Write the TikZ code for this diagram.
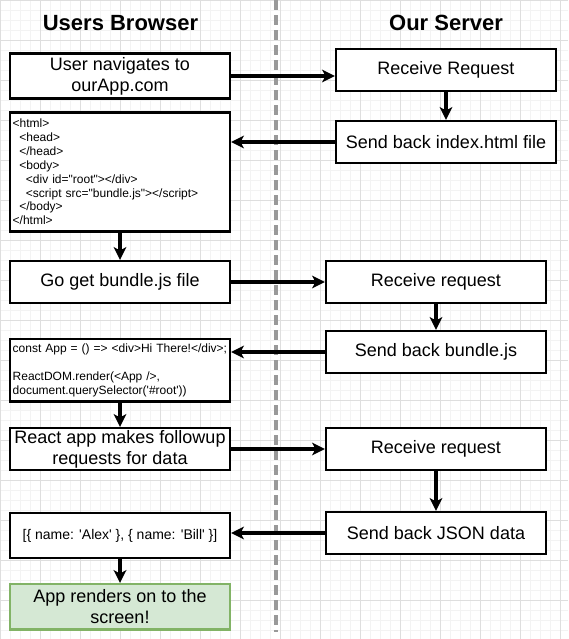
\documentclass[tikz,border=0pt]{standalone}
\usepackage{fontspec}
\setmainfont{Liberation Sans}[Ligatures=TeXOff]
\usetikzlibrary{arrows.meta}

\tikzset{every picture/.style={line width=0.75pt}}
\tikzset{
  stepbox/.style={draw, fill=white, line width=1.8pt, minimum width=165pt, minimum height=31.5pt, inner sep=0pt, align=center, font=\fontsize{13.5}{15.75}\selectfont},
  codebox/.style={stepbox, text width=161pt, inner xsep=2pt, align=left, font=\fontsize{9}{10.4}\selectfont},
  donebox/.style={stepbox, draw={rgb, 255:red, 130; green, 179; blue, 102}, fill={rgb, 255:red, 213; green, 232; blue, 212}},
  arrowline/.style={draw, line width=2.3pt, -{Stealth[length=9.5pt, width=9.5pt, inset=2.5pt]}},
  lane/.style={font=\fontsize{16.5}{19}\selectfont\bfseries},
}

\begin{document}
\begin{tikzpicture}[x=0.75pt,y=0.75pt,yscale=-1,xscale=1]
	\useasboundingbox (0,0) rectangle (568,639);
	\fill [white] (0,0) rectangle (568,639);

	%Shape: Grid
	\draw [color={rgb, 255:red, 243; green, 243; blue, 243 }, step=10] (0,0) grid (568,639);
	\draw [color={rgb, 255:red, 222; green, 222; blue, 222 }, step=40] (0,0) grid (568,639);
	%Straight Lines
	\draw [color={rgb, 255:red, 153; green, 153; blue, 153 }, line width=2.4pt, dash pattern={on 7.5pt off 3.75pt}] (276,0) -- (276,632);

	% Text Node
	\node [lane] (browser) at (120.5,22.6) {Users Browser};
	% Text Node
	\node [lane] (server) at (446,22.6) {Our Server};

	%Shape: Rectangle
	\node [stepbox, minimum height=33.75pt] (user) at (120,76) {User navigates to\\ourApp.com};
	\node [stepbox] (recv1) at (446,70) {Receive Request};
	\node [stepbox] (sendidx) at (446,142) {Send back index.html file};
	\node [codebox, minimum height=89.25pt] (html) at (120,172) {<html>\\
		\hspace*{0.56em}<head>\\
		\hspace*{0.56em}</head>\\
		\hspace*{0.56em}<body>\\
		\hspace*{1.11em}<div id="root"></div>\\
		\hspace*{1.11em}<script src="bundle.js"></script>\\
		\hspace*{0.56em}</body>\\
		</html>};
	\node [stepbox] (goget) at (120,282) {Go get bundle.js file};
	\node [stepbox] (recv2) at (436,282) {Receive request};
	\node [stepbox] (sendjs) at (436,352) {Send back bundle.js};
	\node [codebox, minimum height=47pt] (reactcode) at (120,370.3) {const App = () => <div>Hi There!</div>;\\[10.4pt]
		ReactDOM.render(<App />,\\
		document.querySelector('\#root'))};
	\node [stepbox] (followup) at (120,449) {React app makes followup\\requests for data};
	\node [stepbox] (recv3) at (436,449) {Receive request};
	\node [stepbox] (sendjson) at (436,533) {Send back JSON data};
	\node [stepbox, minimum height=33.75pt, font=\fontsize{10.5}{12.6}\selectfont] (jsondata) at (120,535.7) {[\{ name: 'Alex' \}, \{ name: 'Bill' \}]};
	\node [donebox, minimum height=34pt] (render) at (120,606.7) {App renders on to the\\screen!};

	%Straight Lines
	\path [arrowline] (user.east) -- (user.east -| recv1.west);
	\path [arrowline] (recv1.south) -- (sendidx.north);
	\path [arrowline] (sendidx.west) -- (sendidx.west -| html.east);
	\path [arrowline] (html.south) -- (goget.north);
	\path [arrowline] (goget.east) -- (recv2.west);
	\path [arrowline] (recv2.south) -- (sendjs.north);
	\path [arrowline] (sendjs.west) -- (sendjs.west -| reactcode.east);
	\path [arrowline] (reactcode.south) -- (followup.north);
	\path [arrowline] (followup.east) -- (recv3.west);
	\path [arrowline] (recv3.south) -- (sendjson.north);
	\path [arrowline] (sendjson.west) -- (sendjson.west -| jsondata.east);
	\path [arrowline] (jsondata.south) -- (render.north);

\end{tikzpicture}
\end{document}
